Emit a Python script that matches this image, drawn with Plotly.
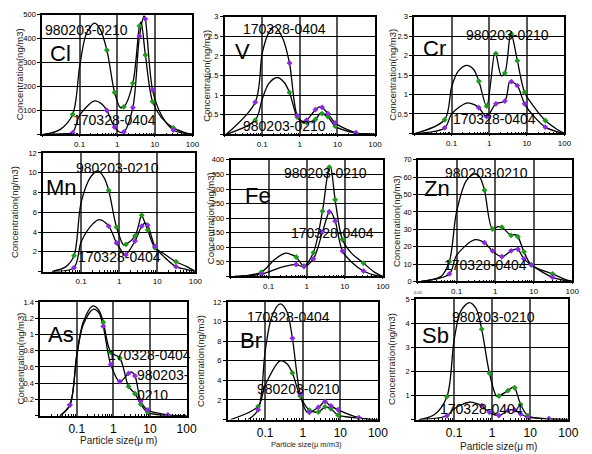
import plotly.graph_objects as go

W, H = 592, 454

# Impactor stage mid-diameters (um)
STAGE_X = [0.065, 0.53, 0.85, 1.5, 2.6, 3.9, 5.6, 8.7, 31]
SERIES_A = "980203-0210"
SERIES_B = "170328-0404"

# ---- marker values (A = 980203-0210 green, B = 170328-0404 purple)
CL_A = [83, 352, 175, 115, 214, 453, 332, 137, 27]
CL_B = [7, 100, 30, 10, 112, 410, 482, 186, 18]
V_A = [0.36, 1.07, 0.44, 0.30, 0.38, 0.53, 0.45, 0.21, 0.03]
V_B = [0.82, 1.82, 0.48, 0.36, 0.63, 0.69, 0.53, 0.29, 0.04]
CR_A = [0.35, 1.34, 0.70, 2.05, 1.55, 2.56, 1.87, 1.06, 0.33]
CR_B = [0.14, 0.66, 0.43, 0.76, 0.83, 1.33, 1.23, 0.76, 0.16]
MN_A = [1.6, 8.2, 4.5, 2.75, 3.6, 5.7, 4.2, 2.4, 1.0]
MN_B = [0.4, 4.6, 2.9, 1.7, 3.1, 4.6, 4.7, 2.55, 0.5]
FE_A = [15, 67, 36, 82, 224, 375, 263, 127, 46]
FE_B = [8, 41, 34, 60, 153, 222, 190, 87, 19]
ZN_A = [11.3, 52.5, 30.2, 31.2, 26.5, 25.7, 17, 9.5, 4.3]
ZN_B = [4.3, 22.3, 17.6, 14.2, 17.6, 18.5, 13, 9.5, 2.3]
AS_A = [0.13, 1.15, 0.78, 0.71, 0.36, 0.27, 0.14, 0.04, 0.0]
AS_B = [0.13, 1.10, 0.63, 0.42, 0.52, 0.49, 0.18, 0.07, 0.01]
BR_A = [1.35, 4.75, 2.4, 0.95, 0.78, 1.3, 1.1, 0.45, 0.15]
BR_B = [1.0, 8.3, 2.6, 0.75, 1.25, 1.85, 1.4, 1.0, 0.2]
SB_A = [0.95, 3.75, 1.92, 0.98, 1.2, 1.32, 0.63, 0.16, 0.03]
SB_B = [0.16, 0.58, 0.30, 0.17, 0.37, 0.40, 0.23, 0.10, 0.03]

# ---- extra points of the fitted curves between the stages (x um, value)
CL_A_CURVE = [(0.011, 0), (0.03, 20), (0.1, 284), (0.15, 420), (0.25, 465), (0.35, 440), (1.2, 113), (4.3, 470), (15, 70), (60, 8), (100, 0)]
CL_B_CURVE = [(0.011, 0), (0.04, 3), (0.1, 80), (0.25, 140), (0.4, 125), (1.2, 8), (5.2, 495), (15, 80), (60, 5), (100, 0)]
V_A_CURVE = [(0.011, 0), (0.1, 0.9), (0.15, 1.3), (0.25, 1.45), (0.38, 1.33), (1.2, 0.3), (3.5, 0.54), (60, 0.01), (100, 0)]
V_B_CURVE = [(0.011, 0), (0.1, 2.07), (0.15, 2.6), (0.22, 2.75), (0.35, 2.45), (1.2, 0.33), (3.3, 0.7), (60, 0.01), (100, 0)]
CR_A_CURVE = [(0.011, 0), (0.1, 1.2), (0.15, 1.6), (0.25, 1.75), (0.38, 1.65), (1.4, 2.08), (2.1, 1.48), (3.7, 2.57), (15, 0.7), (60, 0.12), (100, 0)]
CR_B_CURVE = [(0.011, 0), (0.1, 0.5), (0.25, 0.78), (0.4, 0.74), (3.5, 1.34), (15, 0.45), (60, 0.05), (100, 0)]
MN_A_CURVE = [(0.017, 0), (0.04, 0.5), (0.1, 7.0), (0.18, 9.6), (0.28, 10.2), (0.4, 9.5), (1.3, 2.7), (3.8, 5.7), (15, 1.8), (60, 0.5), (100, 0)]
MN_B_CURVE = [(0.017, 0), (0.1, 3.0), (0.2, 4.8), (0.3, 5.25), (1.4, 1.7), (4.8, 4.9), (15, 1.5), (60, 0.2), (100, 0)]
FE_A_CURVE = [(0.013, 0), (0.03, 4), (0.15, 60), (0.28, 80), (0.4, 75), (4.2, 378), (15, 80), (60, 15), (100, 0)]
FE_B_CURVE = [(0.013, 0), (0.2, 30), (0.4, 40), (4.2, 223), (15, 50), (60, 5), (100, 0)]
ZN_A_CURVE = [(0.012, 0), (0.04, 3), (0.1, 40), (0.18, 58), (0.3, 62), (0.4, 60), (1.2, 31.5), (3.2, 27), (60, 1.5), (100, 0)]
ZN_B_CURVE = [(0.012, 0), (0.1, 15), (0.3, 24), (3.5, 18.6), (60, 0.7), (100, 0)]
AS_A_CURVE = [(0.035, 0), (0.1, 0.75), (0.15, 1.15), (0.27, 1.35), (0.4, 1.3), (60, 0), (100, 0)]
AS_B_CURVE = [(0.035, 0), (0.1, 0.73), (0.15, 1.12), (0.28, 1.31), (0.4, 1.27), (3.1, 0.54), (60, 0), (100, 0)]
BR_A_CURVE = [(0.012, 0), (0.1, 3.5), (0.25, 6.0), (0.38, 5.7), (2.2, 0.75), (4.0, 1.3), (60, 0.02), (100, 0)]
BR_B_CURVE = [(0.035, 0), (0.1, 7.0), (0.15, 10.5), (0.25, 11.8), (0.38, 11.0), (1.3, 0.75), (3.8, 1.85), (60, 0.03), (100, 0)]
SB_A_CURVE = [(0.012, 0), (0.03, 0.2), (0.1, 3.3), (0.15, 4.5), (0.25, 4.85), (0.38, 4.6), (1.3, 0.97), (3.5, 1.35), (60, 0.01), (100, 0)]
SB_B_CURVE = [(0.012, 0), (0.1, 0.45), (0.25, 0.72), (0.4, 0.66), (3.3, 0.41), (60, 0.01), (100, 0)]

# ---- y-axis scales
Y_MAX = {"Cl": 500, "V": 3, "Cr": 3, "Mn": 12, "Fe": 400, "Zn": 70, "As": 1.4, "Br": 12, "Sb": 5}
Y_STEP = {"Cl": 100, "V": 0.5, "Cr": 0.5, "Mn": 2, "Fe": 50, "Zn": 10, "As": 0.2, "Br": 2, "Sb": 1}
X_TICKS = [0.01, 0.1, 1, 10, 100]
X_TICK_TEXT = ["", "0.1", "1", "10", "100"]

PANELS = [
    ("Cl", CL_A, CL_B, CL_A_CURVE, CL_B_CURVE),
    ("V", V_A, V_B, V_A_CURVE, V_B_CURVE),
    ("Cr", CR_A, CR_B, CR_A_CURVE, CR_B_CURVE),
    ("Mn", MN_A, MN_B, MN_A_CURVE, MN_B_CURVE),
    ("Fe", FE_A, FE_B, FE_A_CURVE, FE_B_CURVE),
    ("Zn", ZN_A, ZN_B, ZN_A_CURVE, ZN_B_CURVE),
    ("As", AS_A, AS_B, AS_A_CURVE, AS_B_CURVE),
    ("Br", BR_A, BR_B, BR_A_CURVE, BR_B_CURVE),
    ("Sb", SB_A, SB_B, SB_A_CURVE, SB_B_CURVE),
]

# ---- layout (pixel boxes of plot areas: x0, x1, y0, y1)
BOX = {
    "Cl": (39, 193, 11, 133), "V": (226, 380, 13, 133), "Cr": (420, 574, 13, 132),
    "Mn": (40, 196, 152, 273), "Fe": (232, 388, 159, 278), "Zn": (424, 582, 159, 283),
    "As": (37, 187, 304, 420), "Br": (229, 383, 304, 424), "Sb": (422, 578, 301, 424),
}
YTITLE_X = {"Cl": 16, "V": 207, "Cr": 397, "Mn": 11, "Fe": 211, "Zn": 402, "As": 17, "Br": 202, "Sb": 397}
LABELS = {
    "Cl": [(SERIES_A, 84, 27), ("Cl", 58, 50), (SERIES_B, 113, 118)],
    "V": [(SERIES_B, 287, 25), ("V", 244, 48), (SERIES_A, 287, 124)],
    "Cr": [(SERIES_A, 516, 32), ("Cr", 441, 45), (SERIES_B, 502, 117)],
    "Mn": [(SERIES_A, 116, 167), ("Mn", 59, 187), (SERIES_B, 118, 258)],
    "Fe": [(SERIES_A, 329, 172), ("Fe", 260, 195), (SERIES_B, 336, 234)],
    "Zn": [(SERIES_A, 494, 172), ("Zn", 443, 188), (SERIES_B, 493, 266)],
    "As": [(SERIES_B, 149, 358), ("As", 58, 337), ("980203-", 163, 378), ("0210", 152, 399)],
    "Br": [(SERIES_B, 291, 319), ("Br", 253, 343), (SERIES_A, 302, 393)],
    "Sb": [(SERIES_A, 501, 319), ("Sb", 442, 338), (SERIES_B, 489, 413)],
}
XTITLES = {"As": ("Particle size(μ m)", 117, 445, 10), "Br": ("Particle size(μ m/m3)", 310, 449, 7.5), "Sb": ("Particle size(μ m)", 506, 451, 10)}

GREEN = "#1f9a1f"
PURPLE = "#8a2be2"
FONT = "Liberation Sans, Arial, sans-serif"


def px(x):
    return x / W


def py(y):
    return 1 - y / H


def curve(markers, extra):
    pts = sorted(list(zip(STAGE_X, markers)) + list(extra))
    return [p[0] for p in pts], [p[1] for p in pts]


def fmt(v):
    s = ("%.1f" % v)
    return s[:-2] if s.endswith(".0") else s


fig = go.Figure()
annotations = []
minor_vals = [m * 10 ** e for e in range(-2, 2) for m in range(2, 10)]

for i, (name, a, b, ca, cb) in enumerate(PANELS):
    n = i + 1
    xa = "x" if n == 1 else "x%d" % n
    ya = "y" if n == 1 else "y%d" % n
    for vals, extra in ((a, ca), (b, cb)):
        cx, cy = curve(vals, extra)
        fig.add_trace(go.Scatter(x=cx, y=cy, mode="lines", xaxis=xa, yaxis=ya,
                                 line=dict(color="black", width=1.3, shape="spline", smoothing=0.9),
                                 showlegend=False, hoverinfo="skip"))
    for vals, col in ((a, GREEN), (b, PURPLE)):
        fig.add_trace(go.Scatter(x=STAGE_X, y=vals, mode="markers", xaxis=xa, yaxis=ya,
                                 marker=dict(color=col, size=4.5, symbol="diamond"),
                                 showlegend=False))
    x0, x1, y0, y1 = BOX[name]
    bottom = name in ("As", "Br", "Sb")
    ymax = Y_MAX[name]
    step = Y_STEP[name]
    nt = int(round(ymax / step))
    yv = [k * step for k in range(nt + 1)]
    yt = [fmt(v) for v in yv]
    if name != "Zn":
        yt[0] = ""
    xt = list(X_TICK_TEXT)
    if name == "Zn":
        xt[0] = "<span style='font-size:4px'>0.01</span>"
    xkey = "xaxis" if n == 1 else "xaxis%d" % n
    ykey = "yaxis" if n == 1 else "yaxis%d" % n
    fig.layout[xkey] = dict(
        type="log", range=[-2, 2], domain=[px(x0), px(x1)], anchor=ya,
        tickmode="array", tickvals=X_TICKS, ticktext=xt,
        tickfont=dict(size=12 if bottom else 8, color="black", family=FONT),
        ticks="outside", ticklen=1, tickcolor="black",
        showgrid=True, gridcolor="#555555", gridwidth=1.8,
        showline=True, linecolor="black", linewidth=1.5, mirror=True,
        minor=dict(tickmode="array", tickvals=minor_vals, ticks="inside", ticklen=2, tickcolor="black", showgrid=False),
        zeroline=False, fixedrange=True,
    )
    fig.layout[ykey] = dict(
        range=[0, ymax], domain=[py(y1), py(y0)], anchor=xa,
        tickmode="array", tickvals=yv, ticktext=yt,
        tickfont=dict(size=7.5, color="black", family=FONT),
        ticks="outside", ticklen=3, tickcolor="black",
        showgrid=True, gridcolor="black", gridwidth=1,
        showline=True, linecolor="black", linewidth=1.5, mirror=True,
        zeroline=False, fixedrange=True,
    )
    annotations.append(dict(text="Concentration(ng/m3)", x=px(YTITLE_X[name]), y=py((y0 + y1) / 2),
                            xref="paper", yref="paper", textangle=-90, showarrow=False,
                            xanchor="center", yanchor="middle",
                            font=dict(size=9.5, color="#222", family=FONT)))
    for txt, lx, ly in LABELS[name]:
        big = len(txt) <= 2
        annotations.append(dict(text=txt, x=px(lx), y=py(ly), xref="paper", yref="paper",
                                showarrow=False, xanchor="center", yanchor="middle",
                                font=dict(size=22 if big else 14, color="black", family=FONT)))
    if name in XTITLES:
        t, tx, ty, fs = XTITLES[name]
        annotations.append(dict(text=t, x=px(tx), y=py(ty), xref="paper", yref="paper",
                                showarrow=False, xanchor="center", yanchor="middle", borderpad=0,
                                font=dict(size=fs, color="#222", family=FONT)))

fig.update_layout(width=W, height=H, margin=dict(l=0, r=0, t=0, b=0),
                  paper_bgcolor="white", plot_bgcolor="white",
                  annotations=annotations, showlegend=False)
fig.write_html("out.html")
